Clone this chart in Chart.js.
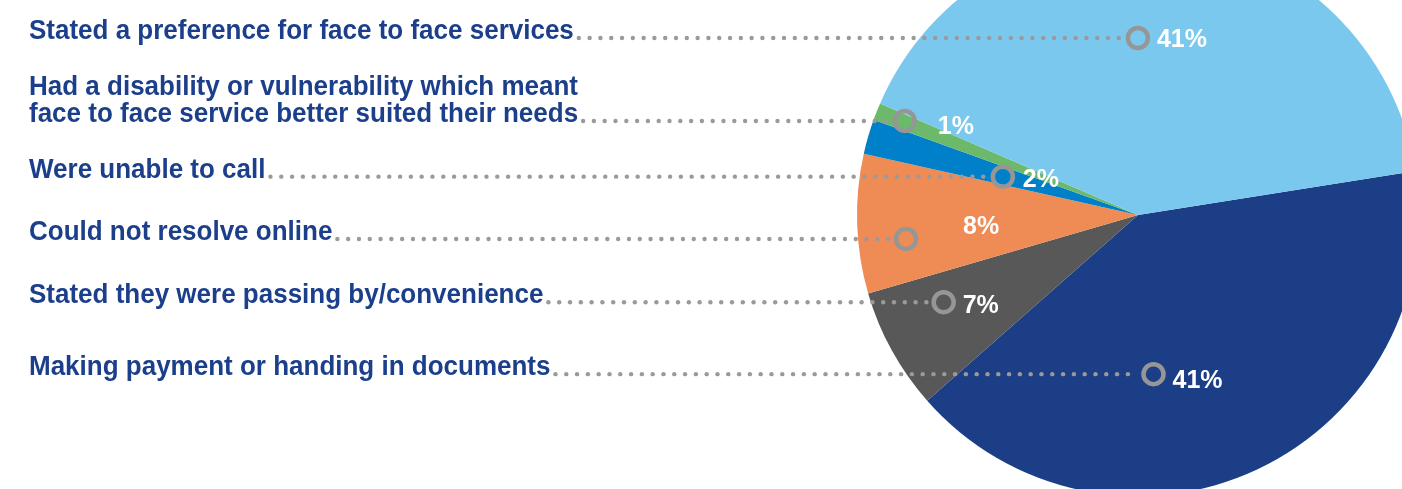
<!DOCTYPE html>
<html>
<head>
<meta charset="utf-8">
<script src="https://cdn.jsdelivr.net/npm/chart.js@4/dist/chart.umd.min.js"></script>
<style>
  html, body { margin: 0; padding: 0; background: #ffffff; overflow: hidden; width: 1402px; height: 489px; }
  #reasonsChart { position: absolute; left: 0; top: -66px; }
</style>
</head>
<body>
<canvas id="reasonsChart" width="1419" height="562"></canvas>
<script>
// categories and values, top to bottom as listed on the left
var reasons = [
  ["Stated a preference for face to face services"],
  ["Had a disability or vulnerability which meant", "face to face service better suited their needs"],
  ["Were unable to call"],
  ["Could not resolve online"],
  ["Stated they were passing by/convenience"],
  ["Making payment or handing in documents"]
];
var shares = [41, 1, 2, 8, 7, 41];
var sliceColors = ["#7bc8ee", "#6cb96b", "#0080c8", "#ef8b54", "#585858", "#1b3e87"];

// where each ring marker sits inside its slice (fraction of slice angle, fraction of radius)
// and where its % label goes relative to the ring
var markerAt = [
  { along: 0.451, out: 0.63, dx: 19, dy: 9 },
  { along: 0.60, out: 0.895, dx: 33, dy: 13 },
  { along: 0.45, out: 0.50, dx: 20, dy: 10 },
  { along: 0.358, out: 0.83, dx: 57, dy: -5 },
  { along: 0.684, out: 0.758, dx: 19, dy: 11 },
  { along: 0.633, out: 0.569, dx: 19, dy: 14 }
];

(function () {
  var textBlue = "#1c3f8b";
  var dotGrey = "#9a9a9a";
  var ringGrey = "#969696";
  var labelFont = "bold 26px 'Liberation Sans', Arial, sans-serif";
  var pctFont = "bold 25px 'Liberation Sans', Arial, sans-serif";

  // the pie runs clockwise from the dark blue slice, the reverse of the list
  var order = [5, 4, 3, 2, 1, 0];
  function pick(arr) {
    return order.map(function (i) { return arr[i]; });
  }

  var calloutPlugin = {
    id: "callouts",
    afterDatasetsDraw: function (chart) {
      var ctx = chart.ctx;
      var arcs = chart.getDatasetMeta(0).data;
      ctx.save();
      arcs.forEach(function (arc, k) {
        var i = order[k];
        var p = arc.getProps(["x", "y", "startAngle", "endAngle", "outerRadius"], true);
        var m = markerAt[i];
        var a = p.startAngle + m.along * (p.endAngle - p.startAngle);
        var mx = p.x + Math.cos(a) * p.outerRadius * m.out;
        var my = p.y + Math.sin(a) * p.outerRadius * m.out;

        // label text, a touch taller than the plain font
        var lines = reasons[i];
        ctx.font = labelFont;
        ctx.fillStyle = textBlue;
        ctx.textAlign = "left";
        ctx.textBaseline = "alphabetic";
        var base = my + 1;
        lines.forEach(function (line, j) {
          ctx.save();
          ctx.translate(29, base - (lines.length - 1 - j) * 27);
          ctx.scale(1, 1.06);
          ctx.fillText(line, 0, 0);
          ctx.restore();
        });
        var endX = 29 + ctx.measureText(lines[lines.length - 1]).width;

        // dotted leader
        ctx.fillStyle = dotGrey;
        for (var x = endX + 5; x < mx - 17; x += 10.8) {
          ctx.beginPath();
          ctx.arc(x, my, 2.2, 0, Math.PI * 2);
          ctx.fill();
        }

        // ring marker
        ctx.strokeStyle = ringGrey;
        ctx.lineWidth = 4.5;
        ctx.beginPath();
        ctx.arc(mx, my, 10, 0, Math.PI * 2);
        ctx.stroke();

        // percentage
        ctx.font = pctFont;
        ctx.fillStyle = "#ffffff";
        ctx.fillText(shares[i] + "%", mx + m.dx, my + m.dy);
      });
      ctx.restore();
    }
  };

  new Chart(document.getElementById("reasonsChart"), {
    type: "pie",
    data: {
      labels: pick(reasons).map(function (l) { return l.join(" "); }),
      datasets: [{
        data: pick(shares),
        backgroundColor: pick(sliceColors),
        borderWidth: 0,
        hoverBorderWidth: 0,
        hoverOffset: 0
      }]
    },
    options: {
      responsive: false,
      animation: false,
      events: [],
      rotation: 81,
      layout: { padding: { left: 857, right: 0, top: 0, bottom: 0 } },
      plugins: {
        legend: { display: false },
        tooltip: { enabled: false }
      }
    },
    plugins: [calloutPlugin]
  });
})();
</script>
</body>
</html>
